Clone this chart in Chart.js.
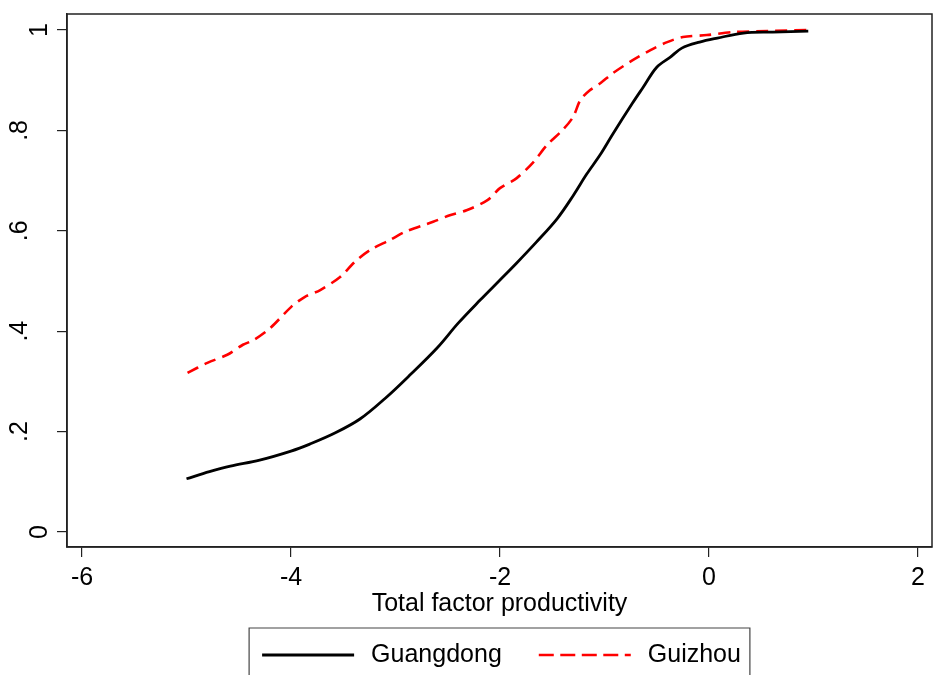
<!DOCTYPE html>
<html lang="en">
<head>
<meta charset="UTF-8">
<title>TFP distribution</title>
<script src="https://cdn.jsdelivr.net/npm/chart.js"></script>
<style>
  body { margin: 0; background: #fff; }
  canvas { display: block; }
</style>
</head>
<body>
<canvas id="cdf" width="934" height="675"></canvas>
<script>
// values
const guangdongX = [-5.0, -4.78, -4.58, -4.30, -4.0, -3.82, -3.58, -3.34, -3.10, -2.86, -2.60, -2.40, -2.19, -2.0, -1.84, -1.65, -1.45, -1.30, -1.17, -1.04, -0.92, -0.73, -0.63, -0.50, -0.37, -0.26, -0.09, 0.08, 0.33, 0.61, 0.95];
const guangdongY = [0.106, 0.120, 0.131, 0.143, 0.161, 0.175, 0.197, 0.225, 0.266, 0.313, 0.367, 0.416, 0.462, 0.502, 0.536, 0.578, 0.625, 0.670, 0.713, 0.752, 0.793, 0.855, 0.886, 0.926, 0.946, 0.964, 0.976, 0.984, 0.994, 0.996, 0.998];

const guizhouX = [-4.99, -4.80, -4.61, -4.46, -4.36, -4.20, -4.00, -3.87, -3.72, -3.53, -3.39, -3.24, -3.05, -2.91, -2.64, -2.48, -2.32, -2.12, -2.00, -1.84, -1.68, -1.55, -1.40, -1.30, -1.23, -1.14, -1.04, -0.92, -0.73, -0.56, -0.40, -0.25, -0.02, 0.23, 0.56, 0.95];
const guizhouY = [0.317, 0.337, 0.353, 0.373, 0.382, 0.406, 0.448, 0.468, 0.482, 0.508, 0.538, 0.562, 0.582, 0.598, 0.618, 0.631, 0.641, 0.661, 0.685, 0.705, 0.737, 0.771, 0.801, 0.827, 0.861, 0.880, 0.894, 0.914, 0.940, 0.960, 0.976, 0.986, 0.990, 0.996, 0.998, 1.0];

const seriesNames = ['Guangdong', 'Guizhou'];
const xTickValues = [-6, -4, -2, 0, 2];
const yTickValues = [0, 0.2, 0.4, 0.6, 0.8, 1];
const yTickLabels = ['0', '.2', '.4', '.6', '.8', '1'];
const xTitle = 'Total factor productivity';

const FONT = '"Liberation Sans", Arial, sans-serif';

function toPoints(xs, ys) {
    return xs.map((x, i) => ({ x: x, y: ys[i] }));
}

// stata style: box round the plot, rotated y labels, boxed legend below
const stataBits = {
    id: 'stataBits',
    afterDraw(chart) {
        const ctx = chart.ctx;
        const area = chart.chartArea;
        ctx.save();

        ctx.strokeStyle = '#222';
        ctx.lineWidth = 1.5;
        ctx.strokeRect(area.left, area.top, area.right - area.left, area.bottom - area.top);

        // y labels, reading upwards
        const ys = chart.scales.y;
        ctx.fillStyle = '#000';
        ctx.font = '25px ' + FONT;
        ctx.textAlign = 'center';
        ctx.textBaseline = 'alphabetic';
        yTickValues.forEach((v, i) => {
            const lab = yTickLabels[i];
            const py = ys.getPixelForValue(v);
            const px = lab.length === 1 ? ys.right - 20 : ys.right - 40;
            ctx.save();
            ctx.translate(px, py);
            ctx.rotate(-Math.PI / 2);
            ctx.fillText(lab, 0, 0);
            ctx.restore();
        });

        // legend
        const sets = chart.data.datasets;
        const sampleW = 92, gapText = 17, gapItem = 37;
        const widths = sets.map(d => ctx.measureText(d.label).width);
        let total = 0;
        widths.forEach((w, i) => { total += sampleW + gapText + w + (i < widths.length - 1 ? gapItem : 0); });
        const cx = (area.left + area.right) / 2 + 2;
        let x = cx - total / 2;
        const boxL = x - 13, boxR = x + total + 9, boxT = 628;
        const cy = 655;

        ctx.strokeStyle = '#444';
        ctx.lineWidth = 1.2;
        ctx.setLineDash([]);
        ctx.beginPath();
        ctx.moveTo(boxL, chart.height + 2);
        ctx.lineTo(boxL, boxT);
        ctx.lineTo(boxR, boxT);
        ctx.lineTo(boxR, chart.height + 2);
        ctx.stroke();

        ctx.textAlign = 'left';
        ctx.textBaseline = 'middle';
        sets.forEach((d, i) => {
            ctx.strokeStyle = d.borderColor;
            ctx.lineWidth = d.borderWidth;
            ctx.setLineDash(d.borderDash && d.borderDash.length ? [15, 6.5] : []);
            ctx.beginPath();
            ctx.moveTo(x, cy);
            ctx.lineTo(x + sampleW, cy);
            ctx.stroke();
            ctx.setLineDash([]);
            ctx.fillStyle = '#000';
            ctx.fillText(d.label, x + sampleW + gapText, cy);
            x += sampleW + gapText + widths[i] + gapItem;
        });

        ctx.restore();
    }
};

new Chart(document.getElementById('cdf').getContext('2d'), {
    type: 'line',
    data: {
        datasets: [
            {
                label: seriesNames[0],
                data: toPoints(guangdongX, guangdongY),
                borderColor: '#000000',
                borderWidth: 2.8,
                pointRadius: 0,
                tension: 0.35,
                fill: false
            },
            {
                label: seriesNames[1],
                data: toPoints(guizhouX, guizhouY),
                borderColor: '#ff0000',
                borderWidth: 2.6,
                borderDash: [12, 7],
                pointRadius: 0,
                tension: 0.3,
                fill: false
            }
        ]
    },
    options: {
        responsive: false,
        animation: false,
        devicePixelRatio: 1,
        layout: { padding: { top: 14, right: 2, left: 0, bottom: 56 } },
        plugins: {
            legend: { display: false },
            tooltip: { enabled: false }
        },
        scales: {
            x: {
                type: 'linear',
                min: -6.1435,
                max: 2.134,
                afterBuildTicks: s => { s.ticks = xTickValues.map(v => ({ value: v })); },
                afterFit: s => { s.height = 72; },
                ticks: {
                    color: '#000',
                    font: { size: 25, family: FONT },
                    padding: 6,
                    maxRotation: 0,
                    callback: v => String(v)
                },
                grid: { drawOnChartArea: false, drawTicks: true, tickLength: 10, color: '#222', lineWidth: 1.2 },
                border: { display: true, color: '#222', width: 1.5 },
                title: {
                    display: true,
                    text: xTitle,
                    color: '#000',
                    font: { size: 25, family: FONT },
                    padding: { top: 0, bottom: 0 }
                }
            },
            y: {
                type: 'linear',
                min: -0.03,
                max: 1.032,
                afterBuildTicks: s => { s.ticks = yTickValues.map(v => ({ value: v })); },
                afterFit: s => { s.width = 67; },
                ticks: { display: false },
                grid: { drawOnChartArea: false, drawTicks: true, tickLength: 10, color: '#222', lineWidth: 1.2 },
                border: { display: true, color: '#222', width: 1.5 }
            }
        }
    },
    plugins: [stataBits]
});
</script>
</body>
</html>
